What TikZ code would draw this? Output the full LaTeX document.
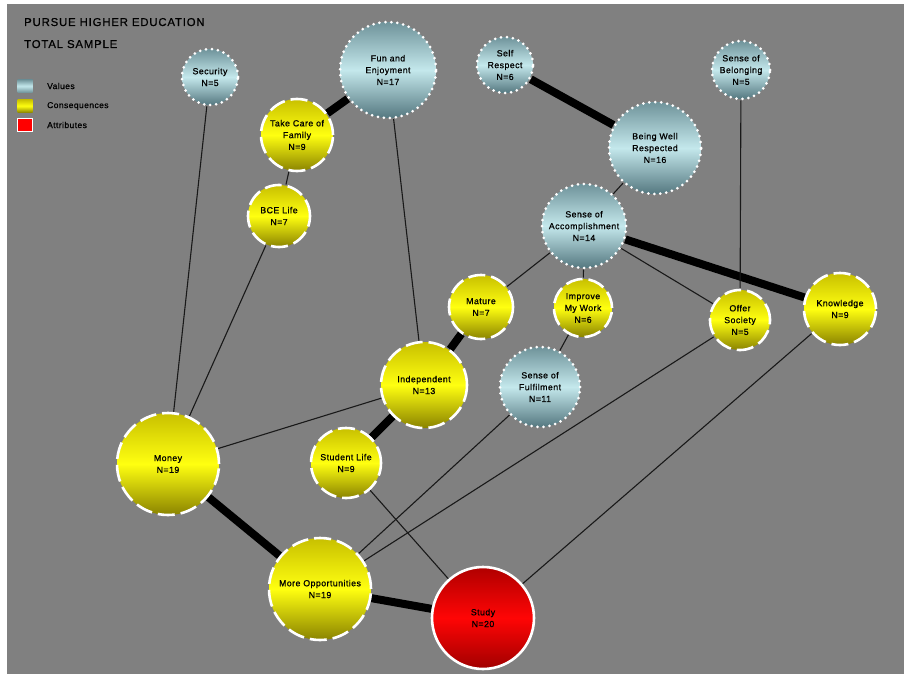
\documentclass[tikz,border=0pt]{standalone}
\usepackage{fontspec}
\setmainfont{Liberation Sans}
\newfontfamily\lblfont[LetterSpace=5, FakeBold=0.8]{Liberation Sans}
\newfontfamily\ttlfont[LetterSpace=7, FakeBold=0.6]{Liberation Sans}
\definecolor{panel}{HTML}{808080}
\definecolor{valTop}{HTML}{6F939A}
\definecolor{valMid}{HTML}{C4E8EC}
\definecolor{valBot}{HTML}{557880}
\definecolor{conTop}{HTML}{C8C000}
\definecolor{conMid}{HTML}{FFFF10}
\definecolor{conBot}{HTML}{8A8300}
\definecolor{attTop}{HTML}{B00000}
\definecolor{attMid}{HTML}{FF0505}
\definecolor{attBot}{HTML}{A00000}
\pgfdeclarelayer{bg}
\pgfdeclarelayer{links}
\pgfsetlayers{bg,links,main}
\tikzset{
  base/.style={circle, inner sep=0pt, align=center, text=black,
    font=\lblfont\fontsize{8.8}{11.8}\selectfont},
  valnode/.style={base, top color=valTop, bottom color=valBot, middle color=valMid,
    draw=white, line width=3pt, line cap=round, dash pattern=on 0pt off 6pt},
  connode/.style={base, top color=conTop, bottom color=conBot, middle color=conMid,
    draw=white, line width=2.6pt, dash pattern=on 17pt off 6pt},
  attnode/.style={base, top color=attTop, bottom color=attBot, middle color=attMid,
    draw=white, line width=2.6pt},
  thinlink/.style={draw=black!90, line width=1.1pt},
  thicklink/.style={draw=black, line width=8pt},
  keybox/.style={rectangle, inner sep=0pt, minimum width=15pt, minimum height=13pt},
  keytext/.style={anchor=west, inner sep=0pt, text=black,
    font=\lblfont\fontsize{8.5}{10}\selectfont},
  title/.style={anchor=base west, inner sep=0pt, text=black,
    font=\ttlfont\fontsize{11.4}{13}\selectfont}
}
\begin{document}
\begin{tikzpicture}[x=1pt,y=-1pt]
\useasboundingbox (0,0) rectangle (904,674);
\begin{pgfonlayer}{bg}
  \fill[white] (0,0) rectangle (904,674);
  \fill[panel] (7,4) rectangle (904,674);
\end{pgfonlayer}

% heading
\node[title] (t1) at (24,26) {PURSUE HIGHER EDUCATION};
\node[title] (t2) at (24,48) {TOTAL SAMPLE};

% key
\node[keybox, top color=valTop, bottom color=valTop, middle color=valMid] (kv) at (25,86) {};
\node[keybox, top color=conTop, bottom color=conBot, middle color=conMid] (kc) at (25,106) {};
\node[keybox, fill=red, draw=white, line width=0.8pt] (ka) at (25,125) {};
\node[keytext] (kvt) at (47,86) {Values};
\node[keytext] (kct) at (47,106) {Consequences};
\node[keytext] (kat) at (47,125) {Attributes};

% values
\node[valnode, minimum size=56pt] (sec)  at (210,77)  {Security\\N=5};
\node[valnode, minimum size=96pt] (fun)  at (388,70)  {Fun and\\Enjoyment\\N=17};
\node[valnode, minimum size=56pt] (self) at (505,65)  {Self\\Respect\\N=6};
\node[valnode, minimum size=58pt] (belo) at (741,70)  {Sense of\\Belonging\\N=5};
\node[valnode, minimum size=92pt] (resp) at (655,148) {Being Well\\Respected\\N=16};
\node[valnode, minimum size=84pt] (acc)  at (584,226) {Sense of\\Accomplishment\\N=14};
\node[valnode, minimum size=80pt] (ful)  at (540,387) {Sense of\\Fulfilment\\N=11};

% consequences
\node[connode, minimum size=72pt]  (fam)  at (297,135) {Take Care of\\Family\\N=9};
\node[connode, minimum size=62pt]  (bce)  at (279,216) {BCE Life\\N=7};
\node[connode, minimum size=64pt]  (mat)  at (481,307) {Mature\\N=7};
\node[connode, minimum size=58pt]  (work) at (583,308) {Improve\\My Work\\N=6};
\node[connode, minimum size=60pt]  (soc)  at (740,320) {Offer\\Society\\N=5};
\node[connode, minimum size=72pt]  (know) at (840,309) {Knowledge\\N=9};
\node[connode, minimum size=86pt]  (ind)  at (424,385) {Independent\\N=13};
\node[connode, minimum size=102pt] (mon)  at (168,464) {Money\\N=19};
\node[connode, minimum size=70pt]  (stu)  at (346,463) {Student Life\\N=9};
\node[connode, minimum size=102pt] (opp)  at (320,589) {More Opportunities\\N=19};

% attribute
\node[attnode, minimum size=102pt] (study) at (483,618) {Study\\N=20};

% links
\begin{pgfonlayer}{links}
  \draw[thinlink] (sec) -- (mon);
  \draw[thicklink] (fun) -- (fam);
  \draw[thinlink] (fun) -- (ind);
  \draw[thinlink] (fam) -- (bce);
  \draw[thinlink] (bce) -- (mon);
  \draw[thicklink] (self) -- (resp);
  \draw[thinlink] (resp) -- (acc);
  \draw[thinlink] (acc) -- (mat);
  \draw[thinlink] (acc) -- (work);
  \draw[thinlink] (acc) -- (soc);
  \draw[thicklink] (acc) -- (know);
  \draw[thinlink] (belo) -- (soc);
  \draw[thicklink] (mat) -- (ind);
  \draw[thinlink] (work) -- (ful);
  \draw[thinlink] (ind) -- (mon);
  \draw[thicklink] (ind) -- (stu);
  \draw[thicklink] (mon) -- (opp);
  \draw[thinlink] (stu) -- (study);
  \draw[thicklink] (opp) -- (study);
  \draw[thinlink] (opp) -- (ful);
  \draw[thinlink] (opp) -- (soc);
  \draw[thinlink] (study) -- (know);
\end{pgfonlayer}
\end{tikzpicture}
\end{document}
